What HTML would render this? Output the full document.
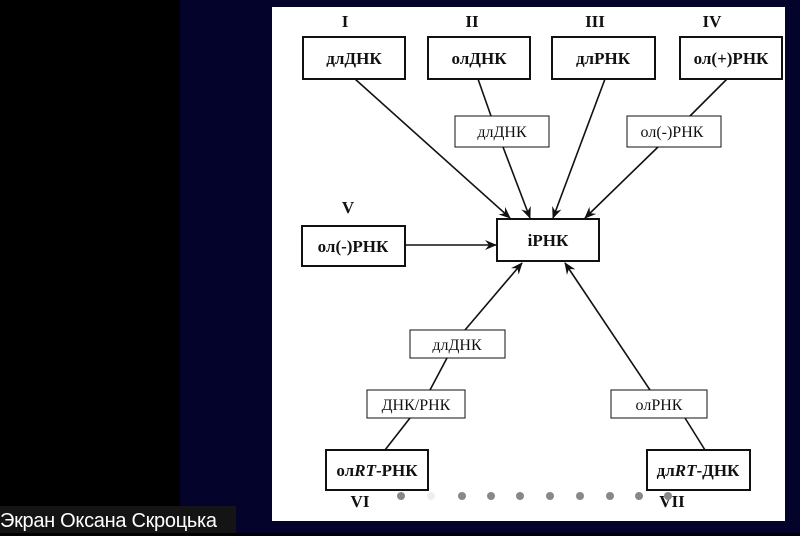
<!DOCTYPE html>
<html><head><meta charset="utf-8"><style>
body{margin:0;width:800px;height:533px;overflow:hidden;background:#000;position:relative;font-family:"Liberation Serif",serif}
.navy{position:absolute;left:180px;top:0;width:620px;height:533px;background:#03032b}
.panel{position:absolute;left:272px;top:7px;width:513px;height:514px;background:#fff}
.cap{position:absolute;left:0;top:506px;height:27px;width:236px;background:#141414;color:#fff;font-family:"Liberation Sans",sans-serif;font-size:20px;line-height:30px;letter-spacing:-0.3px}
</style></head><body>
<div class="navy"></div><div class="panel"></div>
<svg style="position:absolute;left:0;top:0" width="800" height="533">
<defs><marker id="a" markerWidth="12" markerHeight="10" refX="11" refY="5" orient="auto" markerUnits="userSpaceOnUse"><path d="M0,0 L12,5 L0,10 L4,5 z" fill="#111"/></marker></defs>
<g stroke="#111" stroke-width="1.6" fill="none">
<line x1="355" y1="79" x2="510" y2="218" marker-end="url(#a)"/>
<line x1="478" y1="79" x2="491" y2="116"/>
<line x1="503" y1="147" x2="530" y2="218" marker-end="url(#a)"/>
<line x1="605" y1="79" x2="553" y2="218" marker-end="url(#a)"/>
<line x1="727" y1="79" x2="690" y2="116"/>
<line x1="658" y1="147" x2="585" y2="218" marker-end="url(#a)"/>
<line x1="405" y1="245" x2="496" y2="245" marker-end="url(#a)"/>
<line x1="385" y1="450" x2="410" y2="418"/>
<line x1="430" y1="390" x2="447" y2="358"/>
<line x1="465" y1="330" x2="522" y2="263" marker-end="url(#a)"/>
<line x1="705" y1="450" x2="685" y2="418"/>
<line x1="650" y1="390" x2="565" y2="263" marker-end="url(#a)"/>
</g>
<g stroke="#111" fill="#fff">
<rect x="303" y="37" width="102" height="42" stroke-width="2"/>
<rect x="428" y="37" width="102" height="42" stroke-width="2"/>
<rect x="552" y="37" width="103" height="42" stroke-width="2"/>
<rect x="680" y="37" width="102" height="42" stroke-width="2"/>
<rect x="302" y="226" width="103" height="40" stroke-width="2"/>
<rect x="497" y="219" width="102" height="42" stroke-width="2"/>
<rect x="326" y="450" width="102" height="40" stroke-width="2"/>
<rect x="647" y="450" width="103" height="40" stroke-width="2"/>
<rect x="455" y="116" width="94" height="31" stroke-width="1"/>
<rect x="627" y="116" width="94" height="31" stroke-width="1"/>
<rect x="410" y="330" width="95" height="28" stroke-width="1"/>
<rect x="367" y="390" width="98" height="28" stroke-width="1"/>
<rect x="611" y="390" width="96" height="28" stroke-width="1"/>
</g>
<g font-family="Liberation Serif,serif" font-size="16" fill="#111" text-anchor="middle">
<g font-weight="bold" font-size="17">
<text x="345" y="27">I</text><text x="472" y="27">II</text><text x="595" y="27">III</text><text x="712" y="27">IV</text>
<text x="348" y="213">V</text><text x="360" y="507">VI</text><text x="672" y="507">VII</text>
<text x="354" y="64">длДНК</text><text x="479" y="64">олДНК</text><text x="603" y="64">длРНК</text><text x="731" y="64">ол(+)РНК</text>
<text x="353" y="252">ол(-)РНК</text><text x="548" y="246">iРНК</text>
<text x="377" y="476">ол<tspan font-style="italic">RT</tspan>-РНК</text>
<text x="698" y="476">дл<tspan font-style="italic">RT</tspan>-ДНК</text>
</g>
<text x="502" y="137">длДНК</text><text x="672" y="137">ол(-)РНК</text>
<text x="457" y="350">длДНК</text><text x="416" y="410">ДНК/РНК</text><text x="659" y="410">олРНК</text>
</g>
<g fill="#888">
<circle cx="401" cy="496" r="4"/><circle cx="431" cy="496" r="4" fill="#eee"/><circle cx="462" cy="496" r="4"/><circle cx="491" cy="496" r="4"/><circle cx="520" cy="496" r="4"/><circle cx="550" cy="496" r="4"/><circle cx="580" cy="496" r="4"/><circle cx="610" cy="496" r="4"/><circle cx="639" cy="496" r="4"/><circle cx="668" cy="496" r="4"/>
</g>
</svg>
<div class="cap">Экран Оксана Скроцька</div>
</body></html>
